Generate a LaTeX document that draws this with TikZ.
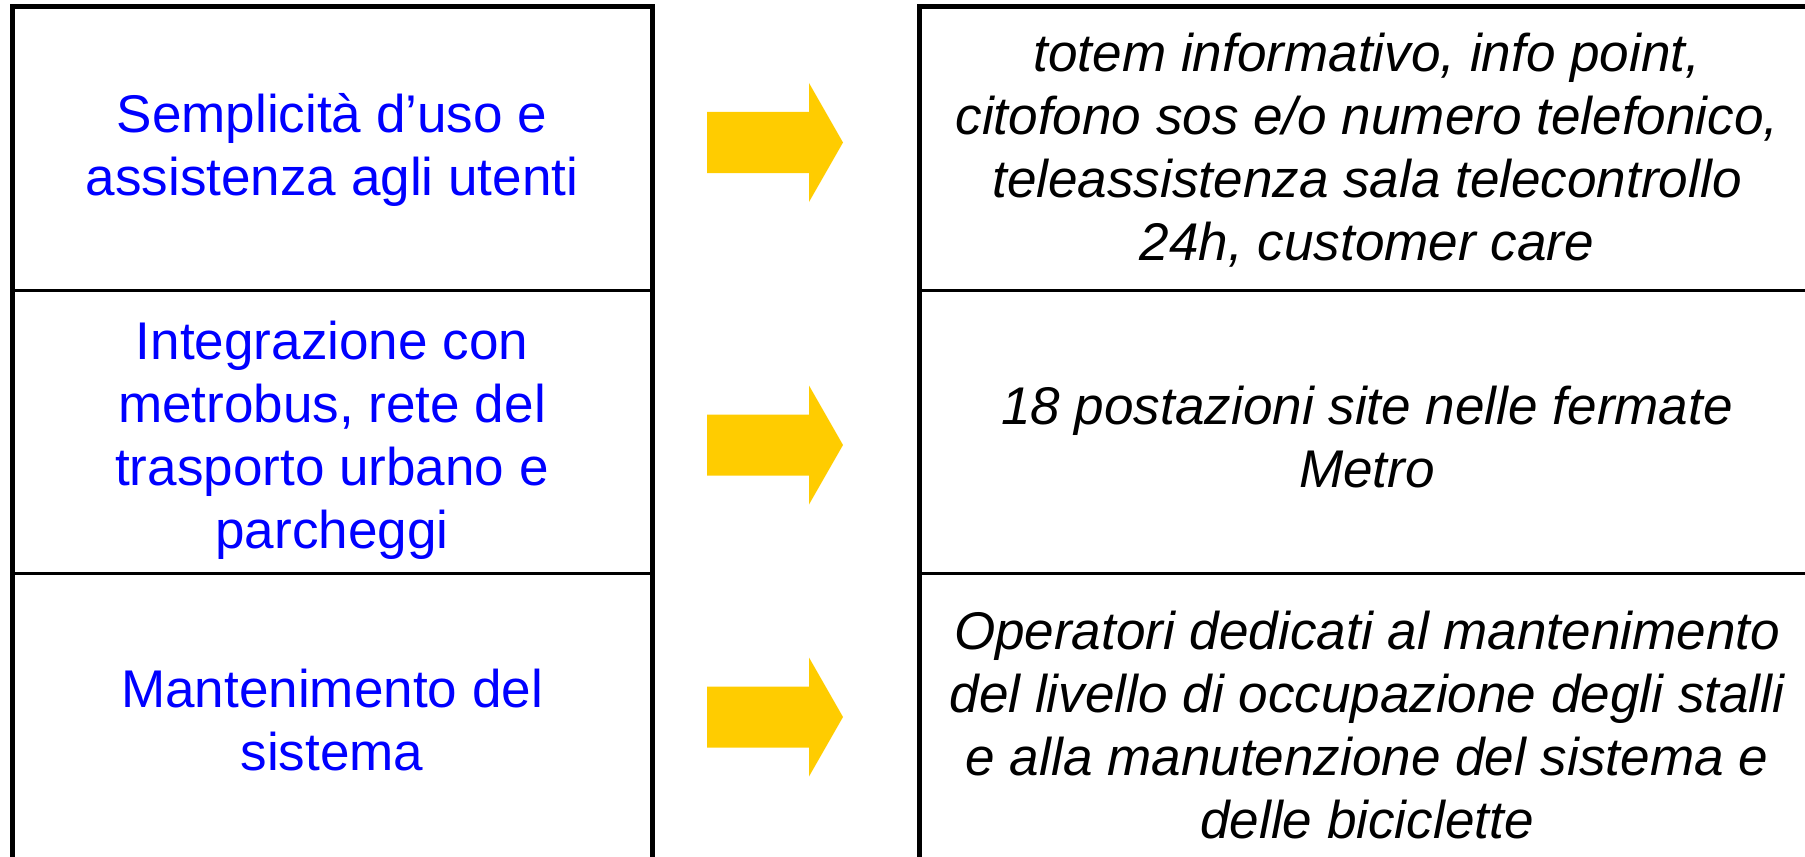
\documentclass[tikz,border=0pt]{standalone}
\usepackage{fontspec}
\setmainfont{Liberation Sans}
\usetikzlibrary{positioning}
\definecolor{arrowyellow}{HTML}{FFCC00}
\definecolor{textblue}{HTML}{0000FF}

\begin{document}
\begin{tikzpicture}[x=0.2mm, y=-0.2mm,
    lcell/.style={align=center, text=textblue, inner sep=0pt, font=\fontsize{30.2pt}{35.9pt}\selectfont},
    rcell/.style={align=center, text=black, inner sep=0pt, font=\fontsize{30.2pt}{35.9pt}\selectfont\itshape},
    frame/.style={draw, line width=1mm},
    rowline/.style={draw, line width=0.6mm},
    yarrow/.pic={\fill[arrowyellow] (-68,-30.5) -- (34,-30.5) -- (34,-59.5) -- (68,0) -- (34,59.5) -- (34,30.5) -- (-68,30.5) -- cycle;}]

    \useasboundingbox (0,0) rectangle (1805,857);
    \clip (0,0) rectangle (1805,857);

    % Tables
    \draw [frame] (12,6.5) rectangle (652.5,890);
    \draw [frame] (919,6.5) rectangle (1830,890);
    \draw [rowline] (12,290.5) -- (652.5,290.5);
    \draw [rowline] (12,573) -- (652.5,573);
    \draw [rowline] (919,290.5) -- (1830,290.5);
    \draw [rowline] (919,573) -- (1830,573);

    % Left column
    \node [lcell] (uso) at (332,150) {Semplicit\`a d'uso e\\assistenza agli utenti};
    \node [lcell] (integr) at (332,440) {Integrazione con\\metrobus, rete del\\trasporto urbano e\\parcheggi};
    \node [lcell] (manut) at (332,720) {Mantenimento del\\sistema};

    % Right column
    \node [rcell] (totem) at (1367,150) {totem informativo, info point,\\citofono sos e/o numero telefonico,\\teleassistenza sala telecontrollo\\24h, customer care};
    \node [rcell] (postaz) at (1367,437) {18 postazioni site nelle fermate\\Metro};
    \node [rcell] (operat) at (1367,725) {Operatori dedicati al mantenimento\\del livello di occupazione degli stalli\\e alla manutenzione del sistema e\\delle biciclette};

    % Arrows
    \pic at (775,142.5) {yarrow};
    \pic at (775,445) {yarrow};
    \pic at (775,717) {yarrow};
\end{tikzpicture}
\end{document}
